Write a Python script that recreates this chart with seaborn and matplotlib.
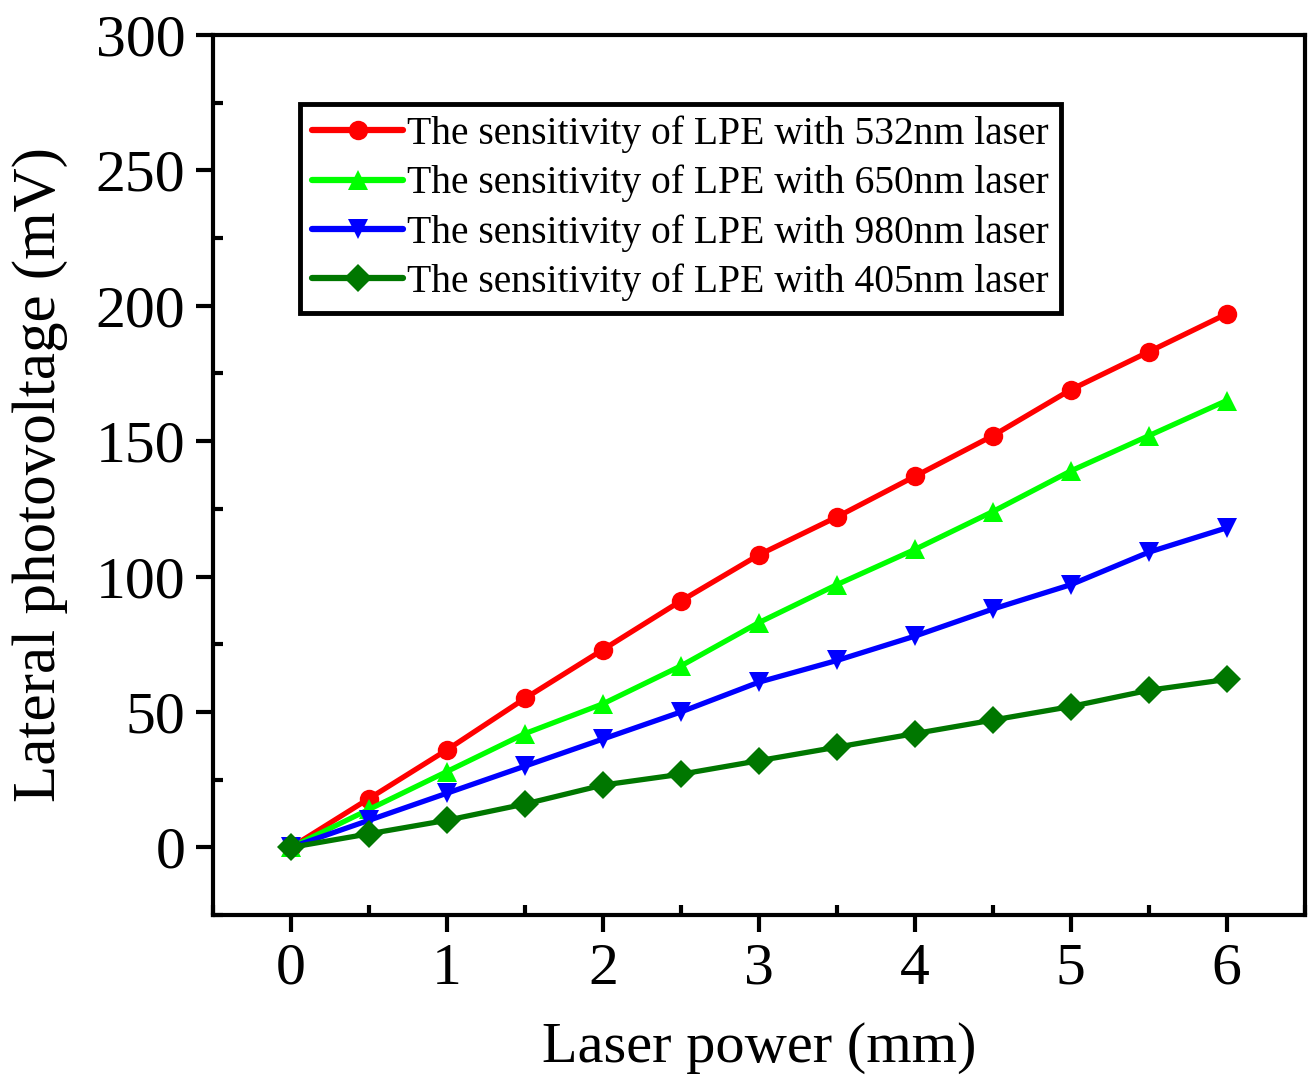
import pandas as pd
import numpy as np
import matplotlib.pyplot as plt
import seaborn as sns
from matplotlib.ticker import MultipleLocator

# Laser power positions and photovoltage readings (mV)
power = [0, 0.5, 1, 1.5, 2, 2.5, 3, 3.5, 4, 4.5, 5, 5.5, 6]
lpv_532 = [0, 18, 36, 55, 73, 91, 108, 122, 137, 152, 169, 183, 197]
lpv_650 = [0, 14, 28, 42, 53, 67, 83, 97, 110, 124, 139, 152, 165]
lpv_980 = [0, 10, 20, 30, 40, 50, 61, 69, 78, 88, 97, 109, 118]
lpv_405 = [0, 5, 10, 16, 23, 27, 32, 37, 42, 47, 52, 58, 62]

labels = ['The sensitivity of LPE with 532nm laser',
          'The sensitivity of LPE with 650nm laser',
          'The sensitivity of LPE with 980nm laser',
          'The sensitivity of LPE with 405nm laser']
colors = ['#ff0000', '#00ff00', '#0000ff', '#007700']
markers = ['o', '^', 'v', 'D']

df = pd.concat([pd.DataFrame({'power': power, 'lpv': v, 'series': lab})
                for v, lab in zip([lpv_532, lpv_650, lpv_980, lpv_405], labels)])

sns.set_style('ticks')
plt.rcParams['font.family'] = ['Liberation Serif', 'DejaVu Serif']
plt.rcParams['text.color'] = 'black'
plt.rcParams['axes.labelcolor'] = 'black'
plt.rcParams['xtick.color'] = 'black'
plt.rcParams['ytick.color'] = 'black'

fig = plt.figure(figsize=(13.1, 10.82), dpi=100)
ax = fig.add_axes([0.1626, 0.1543, 0.8334, 0.8134])

sns.lineplot(data=df, x='power', y='lpv', hue='series', style='series',
             palette=colors, markers=markers, dashes=False, linewidth=3.8,
             markersize=14, markeredgewidth=0, ax=ax)

ax.set_xlim(-0.5, 6.5)
ax.set_ylim(-25, 300)
ax.xaxis.set_major_locator(MultipleLocator(1))
ax.xaxis.set_minor_locator(MultipleLocator(0.5))
ax.yaxis.set_major_locator(MultipleLocator(50))
ax.yaxis.set_minor_locator(MultipleLocator(25))
ax.tick_params(which='major', direction='out', length=12, width=3, labelsize=43, pad=8)
ax.tick_params(which='minor', direction='in', length=7, width=3)
for s in ax.spines.values():
    s.set_linewidth(3)
    s.set_color('black')

ax.set_xlabel('Laser power (mm)', fontsize=42, labelpad=18)
ax.set_ylabel('Lateral photovoltage (mV)', fontsize=44, labelpad=20)

leg = ax.legend(loc='upper left', bbox_to_anchor=(0.08, 0.922), fontsize=28.5,
                frameon=True, fancybox=False, framealpha=1, handlelength=2.3,
                handletextpad=0.1, borderpad=0.3, labelspacing=0.3, borderaxespad=0)
leg.get_frame().set_edgecolor('black')
leg.get_frame().set_linewidth(3.5)
for h in leg.get_lines():
    h.set_linewidth(4.5)

plt.savefig('out.png', dpi=100)
